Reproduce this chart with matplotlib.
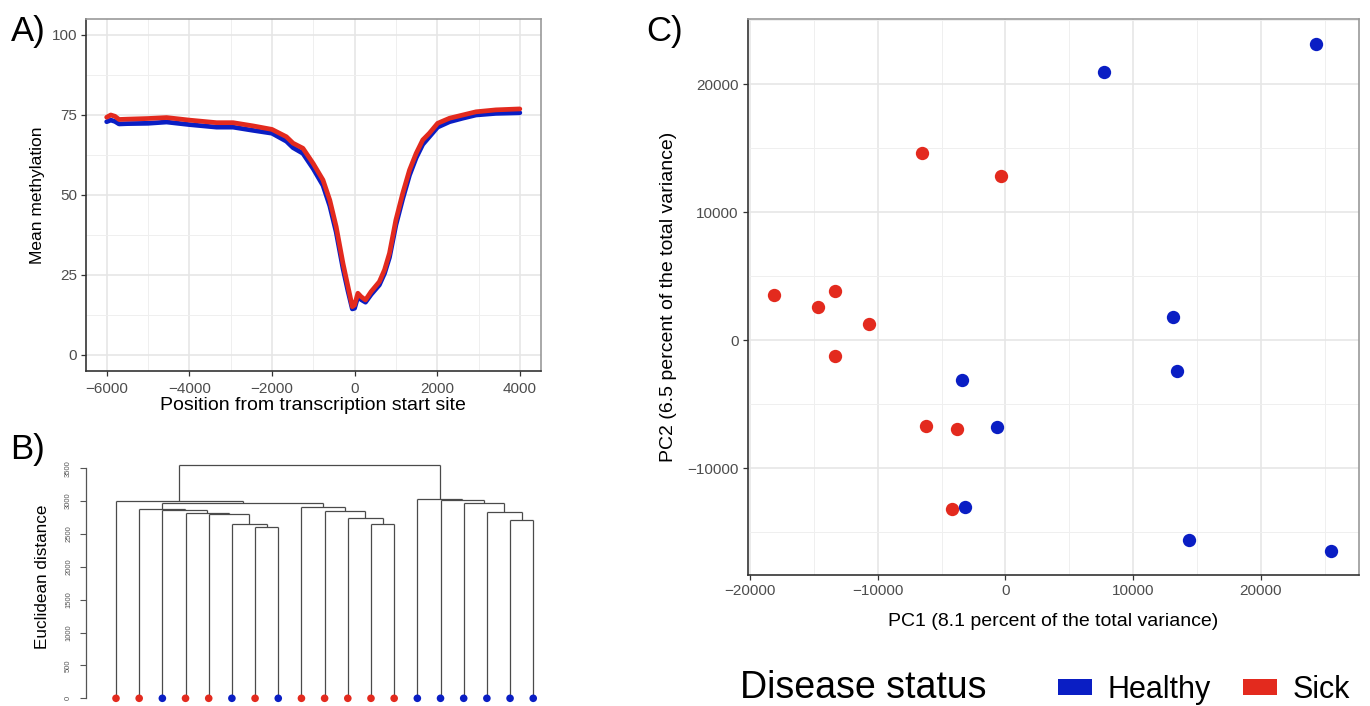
import matplotlib
matplotlib.use('Agg')
import matplotlib.pyplot as plt
from matplotlib.patches import Patch
from matplotlib.ticker import MultipleLocator, FixedLocator, FuncFormatter

plt.rcParams['font.family'] = ['Liberation Sans', 'DejaVu Sans']

# ---------------- data ----------------
# Panel A: mean methylation profile around the TSS
tss_position = [-6000, -5900, -5800, -5700, -5500, -5000, -4550, -4000, -3340, -2940,
                -2460, -2000, -1650, -1490, -1250, -1000, -765, -600, -445, -280,
                -160, -55, 0, 80, 160, 265, 400, 600, 725, 845,
                1000, 1165, 1330, 1490, 1650, 1810, 2010, 2300, 2620, 2940,
                3420, 4000]
meth_sick = [74.3, 75.0, 74.6, 73.6, 73.7, 73.9, 74.2, 73.4, 72.6, 72.6,
             71.6, 70.5, 68.2, 66.2, 64.6, 59.8, 54.7, 48.4, 40.1, 28.6,
             21.4, 15.1, 15.6, 19.3, 18.2, 17.2, 19.8, 22.9, 26.6, 31.8,
             42.2, 50.5, 57.8, 63.0, 67.2, 69.3, 72.4, 74.0, 75.0, 76.0,
             76.6, 76.9]
meth_healthy = [72.9, 73.4, 73.0, 72.2, 72.3, 72.4, 72.8, 72.0, 71.2, 71.2,
                70.2, 69.3, 66.8, 64.8, 63.0, 58.2, 53.0, 46.6, 38.4, 27.0,
                20.0, 14.4, 14.6, 18.2, 17.3, 16.5, 18.9, 21.9, 25.5, 30.5,
                40.6, 48.8, 56.2, 61.6, 65.8, 68.2, 71.2, 72.9, 74.0, 75.0,
                75.5, 75.7]

# Panel B: hierarchical clustering (leaves in display order, R-style merge list)
leaf_status = ['Sick', 'Sick', 'Healthy', 'Sick', 'Sick', 'Healthy', 'Sick', 'Healthy',
               'Sick', 'Sick', 'Sick', 'Sick', 'Sick',
               'Healthy', 'Healthy', 'Healthy', 'Healthy', 'Healthy', 'Healthy']
merge_left = [-7, -6, -12, -18, -11, -5, -4, -17, -10, -3, -2, -9, -16, 11, -1, -15, -14, 15]
merge_right = [-8, 1, -13, -19, 3, 2, 6, 4, 5, 7, 10, 9, 8, 12, 14, 13, 16, 17]
merge_height = [2610, 2655, 2660, 2710, 2750, 2800, 2815, 2828, 2850, 2868,
                2878, 2905, 2970, 2978, 3005, 3015, 3040, 3550]

# Panel C: PCA
pc1_sick = [-18100, -14660, -13360, -10720, -13380, -6530, -370, -6240, -3790, -4150]
pc2_sick = [3570, 2580, 3830, 1250, -1200, 14610, 12840, -6660, -6950, -13150]
pc1_healthy = [7720, 24280, 13110, 13460, -3440, -630, -3130, 14370, 25450]
pc2_healthy = [20960, 23150, 1820, -2420, -3080, -6770, -12990, -15570, -16460]

status_labels = ['Healthy', 'Sick']
status_colors = {'Healthy': '#0A1EC4', 'Sick': '#E32A1E'}

# ---------------- figure ----------------
W, H = 1370, 706
fig = plt.figure(figsize=(W / 100, H / 100), dpi=100)


def px_axes(left, right, top, bottom):
    return fig.add_axes([left / W, 1 - bottom / H, (right - left) / W, (bottom - top) / H])


grid_major = '#E6E6E6'
grid_minor = '#EFEFEF'
tick_col = '#4D4D4D'
minus_fmt = FuncFormatter(lambda v, p: ('\u2212' if v < 0 else '') + f'{abs(int(round(v)))}')


def gg_style(ax):
    ax.set_facecolor('white')
    for s in ['left', 'bottom']:
        ax.spines[s].set_color('#333333')
        ax.spines[s].set_linewidth(1.2)
    for s in ['top', 'right']:
        ax.spines[s].set_color('#999999')
        ax.spines[s].set_linewidth(1.2)
    ax.grid(which='major', color=grid_major, linewidth=1.2, zorder=0)
    ax.grid(which='minor', color=grid_minor, linewidth=0.7, zorder=0)
    ax.set_axisbelow(True)
    ax.tick_params(which='minor', length=0)
    ax.tick_params(which='major', colors='#333333', labelcolor=tick_col,
                   labelsize=11, length=3.5, width=0.9, pad=3)


def center_labels(ax, xy_x, xy_y):
    ax.xaxis.label.set_va('center')
    ax.yaxis.label.set_va('center')
    ax.xaxis.set_label_coords(*xy_x)
    ax.yaxis.set_label_coords(*xy_y)


# ---- Panel A ----
axA = px_axes(86, 540.5, 19, 371)
gg_style(axA)
axA.plot(tss_position, meth_healthy, color=status_colors['Healthy'], lw=3.4,
         solid_capstyle='round', zorder=3)
axA.plot(tss_position, meth_sick, color=status_colors['Sick'], lw=3.4,
         solid_capstyle='round', zorder=4)
axA.set_xlim(-6500, 4500)
axA.set_ylim(-5, 105)
axA.xaxis.set_major_locator(MultipleLocator(2000))
axA.xaxis.set_minor_locator(MultipleLocator(1000))
axA.yaxis.set_major_locator(FixedLocator([0, 25, 50, 75, 100]))
axA.yaxis.set_minor_locator(FixedLocator([12.5, 37.5, 62.5, 87.5]))
axA.xaxis.set_major_formatter(minus_fmt)
axA.tick_params(axis='x', pad=4.5)
axA.set_xlabel('Position from transcription start site', fontsize=14, color='black')
axA.set_ylabel('Mean methylation', fontsize=12.5, color='black')
center_labels(axA, (0.5, (371 - 406) / 352), ((38 - 86) / 454.5, 0.5))

# ---- Panel B ----
axB = px_axes(86, 560, 440, 706)
n_leaves = len(leaf_status)
node_x = {}
node_y = {}


def pos(idx):
    if idx < 0:
        return float(-idx), 0.0
    return node_x[idx], node_y[idx]


dcol = '#4A4A4A'
for k, (a, b, h) in enumerate(zip(merge_left, merge_right, merge_height), start=1):
    xa, ya = pos(a)
    xb, yb = pos(b)
    axB.plot([xa, xa], [ya, h], color=dcol, lw=0.9, solid_capstyle='butt')
    axB.plot([xb, xb], [yb, h], color=dcol, lw=0.9, solid_capstyle='butt')
    axB.plot([xa, xb], [h, h], color=dcol, lw=0.9, solid_capstyle='butt')
    node_x[k] = (xa + xb) / 2
    node_y[k] = h

leaf_x = list(range(1, n_leaves + 1))
axB.scatter(leaf_x, [0] * n_leaves, c=[status_colors[s] for s in leaf_status],
            s=30, zorder=5, clip_on=False, linewidths=0)
spacing = 23.18
axB.set_xlim(1 - 30 / spacing, 1 + (560 - 116) / spacing)
ppu = 230 / 3500
axB.set_ylim(-(706 - 698.3) / ppu, 3500 + (468.3 - 440) / ppu)
for s in ['top', 'right', 'bottom']:
    axB.spines[s].set_visible(False)
axB.spines['left'].set_bounds(0, 3500)
axB.spines['left'].set_color('#555555')
axB.spines['left'].set_linewidth(0.9)
axB.set_xticks([])
axB.set_yticks(range(0, 3501, 500))
axB.tick_params(axis='y', labelsize=5.5, labelcolor='#555555', colors='#555555',
                length=4, width=0.8, pad=6)
for lab in axB.get_yticklabels():
    lab.set_rotation(90)
    lab.set_va('center')
axB.set_ylabel('Euclidean distance', fontsize=12.3)
axB.yaxis.label.set_va('center')
axB.yaxis.set_label_coords((43 - 86) / 474, 0.485)
axB.set_facecolor('none')

# ---- Panel C ----
axC = px_axes(747.7, 1359.3, 19, 575)
gg_style(axC)
axC.scatter(pc1_sick, pc2_sick, s=92, color=status_colors['Sick'], linewidths=0, zorder=3)
axC.scatter(pc1_healthy, pc2_healthy, s=92, color=status_colors['Healthy'], linewidths=0, zorder=3)
axC.set_xlim(-20180, 27700)
axC.set_ylim(-18336, 25100)
axC.xaxis.set_major_locator(MultipleLocator(10000))
axC.xaxis.set_minor_locator(MultipleLocator(5000))
axC.yaxis.set_major_locator(MultipleLocator(10000))
axC.yaxis.set_minor_locator(MultipleLocator(5000))
axC.xaxis.set_major_formatter(minus_fmt)
axC.yaxis.set_major_formatter(minus_fmt)
axC.set_xlabel('PC1 (8.1 percent of the total variance)', fontsize=14)
axC.set_ylabel('PC2 (6.5 percent of the total variance)', fontsize=14)
center_labels(axC, (0.5, (575 - 622) / 556), ((668.5 - 747.7) / 611.6, 0.5))

# ---- legend ----
fig.text(740 / W, 1 - 688 / H, 'Disease status', fontsize=27, ha='left', va='center')
handles = [Patch(facecolor=status_colors[s], edgecolor='none', label=s) for s in status_labels]
fig.legend(handles=handles, loc='center left', bbox_to_anchor=(1058 / W, 1 - 690 / H),
           ncol=2, frameon=False, fontsize=22, handlelength=1.11, handleheight=0.4,
           handletextpad=0.52, columnspacing=1.05, borderpad=0, borderaxespad=0)

# ---- panel letters ----
fig.text(11 / W, 1 - 32 / H, 'A)', fontsize=25, ha='left', va='center')
fig.text(10 / W, 1 - 450 / H, 'B)', fontsize=25, ha='left', va='center')
fig.text(646 / W, 1 - 32 / H, 'C)', fontsize=25, ha='left', va='center')

fig.savefig('out.png', dpi=100)
